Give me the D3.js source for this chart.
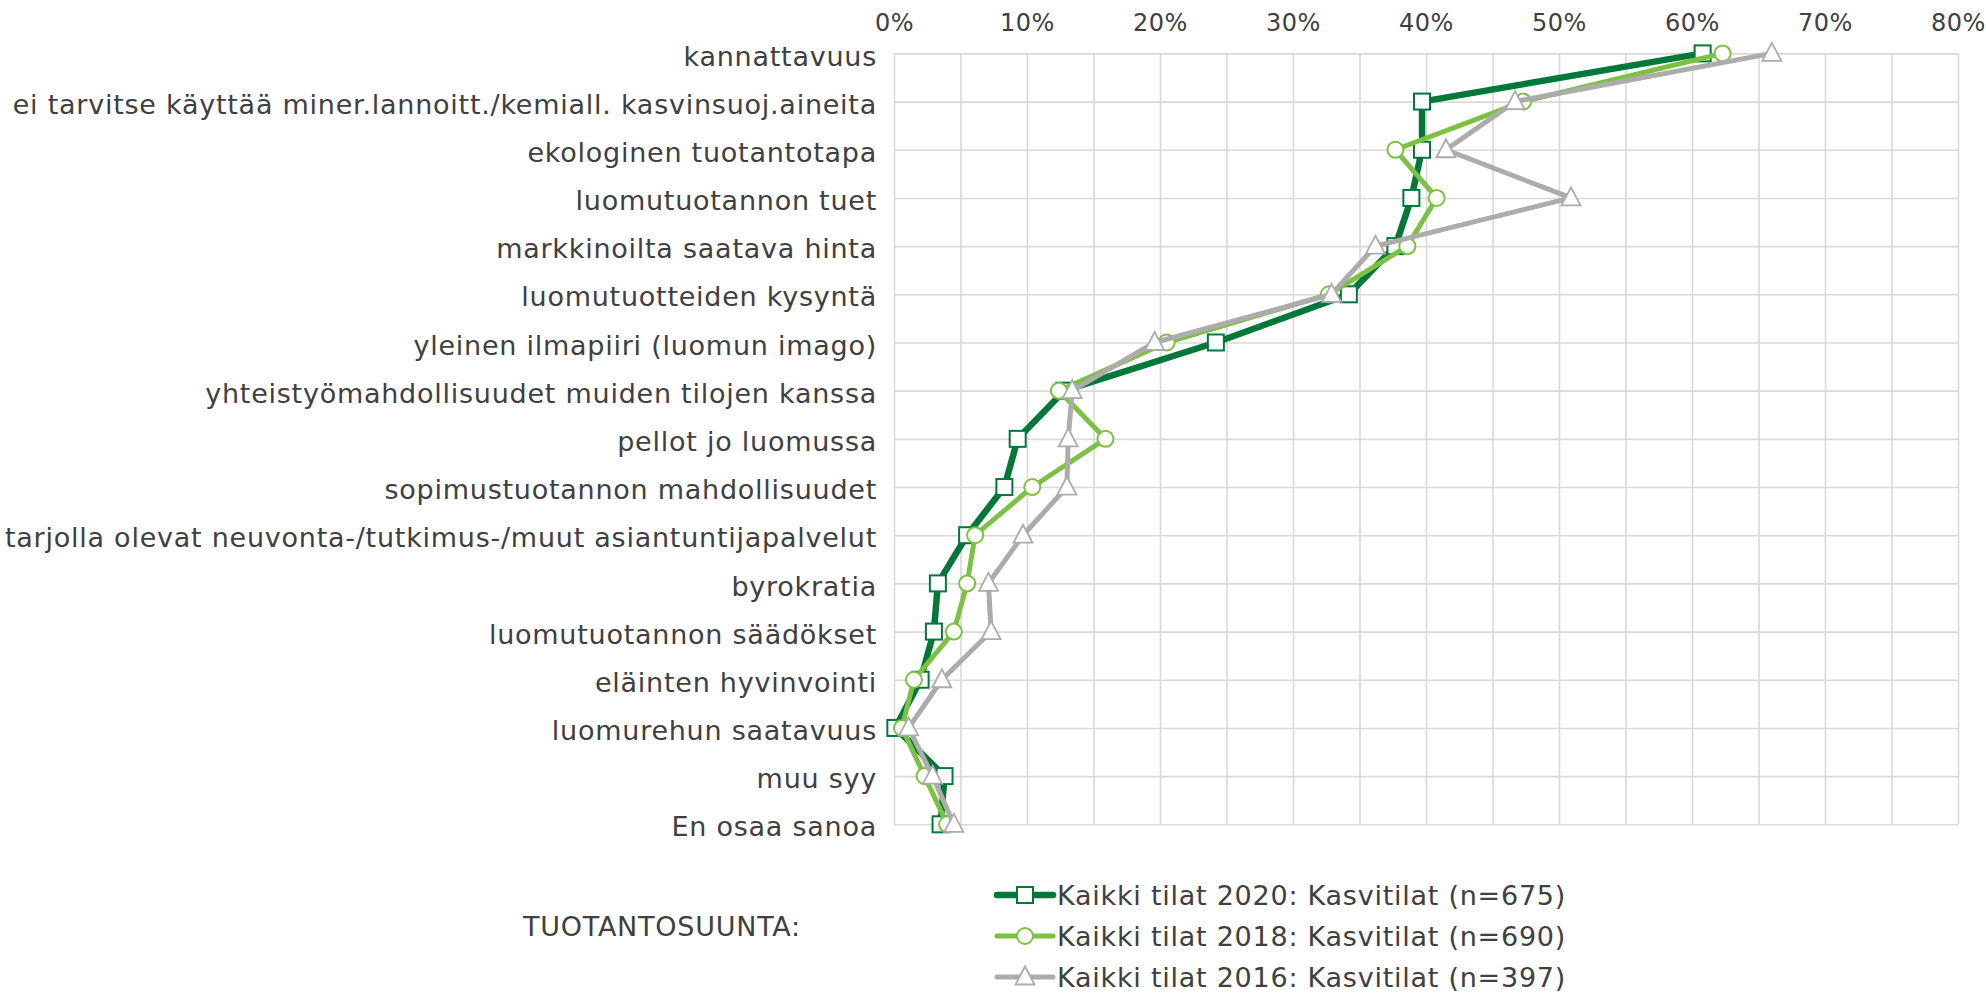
<!DOCTYPE html>
<html>
<head>
<meta charset="utf-8">
<script src="https://cdn.jsdelivr.net/npm/d3@7"></script>
<style>
  body { margin: 0; background: #fff; }
  text { font-family: "DejaVu Sans", Verdana, sans-serif; fill: #404040; }
  .grid line { stroke: #d9d9d9; stroke-width: 1.6px; }
  .axis text { font-size: 27px; letter-spacing: 0.75px; }
  .x-axis text { font-size: 24px; letter-spacing: 0.5px; }
  .legend text { font-size: 27px; letter-spacing: 0.75px; }
</style>
</head>
<body>
<svg id="chart"></svg>
<script>
// reasons, top to bottom
const categories = [
  'kannattavuus',
  'ei tarvitse käyttää miner.lannoitt./kemiall. kasvinsuoj.aineita',
  'ekologinen tuotantotapa',
  'luomutuotannon tuet',
  'markkinoilta saatava hinta',
  'luomutuotteiden kysyntä',
  'yleinen ilmapiiri (luomun imago)',
  'yhteistyömahdollisuudet muiden tilojen kanssa',
  'pellot jo luomussa',
  'sopimustuotannon mahdollisuudet',
  'tarjolla olevat neuvonta-/tutkimus-/muut asiantuntijapalvelut',
  'byrokratia',
  'luomutuotannon säädökset',
  'eläinten hyvinvointi',
  'luomurehun saatavuus',
  'muu syy',
  'En osaa sanoa'
];

// shares in percent
const values2020 = [60.8, 39.7, 39.7, 38.9, 37.7, 34.2, 24.2, 12.8, 9.3, 8.3, 5.5, 3.3, 3.0, 2.0, 0.1, 3.8, 3.5];
const values2018 = [62.3, 47.3, 37.7, 40.8, 38.6, 32.7, 20.5, 12.4, 15.9, 10.4, 6.1, 5.5, 4.5, 1.5, 0.6, 2.3, 4.0];
const values2016 = [66.0, 46.7, 41.5, 50.9, 36.2, 32.9, 19.6, 13.4, 13.1, 13.0, 9.7, 7.1, 7.3, 3.6, 1.1, 2.9, 4.5];

const seriesNames = [
  'Kaikki tilat 2020: Kasvitilat (n=675)',
  'Kaikki tilat 2018: Kasvitilat (n=690)',
  'Kaikki tilat 2016: Kasvitilat (n=397)'
];

const xTicks = [0, 10, 20, 30, 40, 50, 60, 70, 80];
const legendTitle = 'TUOTANTOSUUNTA:';

class ProfileChart {

  constructor(_config, _series) {
    this.config = {
      parentElement: _config.parentElement,
      containerWidth: _config.containerWidth || 1986,
      containerHeight: _config.containerHeight || 994,
      margin: _config.margin || {top: 53.4, right: 28, bottom: 169.7, left: 894}
    }
    this.series = _series;
    this.initVis();
  }

  initVis() {
    let vis = this;

    vis.width = vis.config.containerWidth - vis.config.margin.left - vis.config.margin.right;
    vis.height = vis.config.containerHeight - vis.config.margin.top - vis.config.margin.bottom;

    vis.xScale = d3.scaleLinear()
        .domain([0, 80])
        .range([0, vis.width]);

    vis.yScale = d3.scalePoint()
        .domain(categories)
        .range([0, vis.height])
        .padding(0);

    vis.svg = d3.select(vis.config.parentElement)
        .attr('width', vis.config.containerWidth)
        .attr('height', vis.config.containerHeight);

    vis.chart = vis.svg.append('g')
        .attr('transform', `translate(${vis.config.margin.left},${vis.config.margin.top})`);

    // gridlines: vertical every 5 %, horizontal on every category
    vis.xGrid = d3.axisTop(vis.xScale)
        .tickValues(d3.range(0, 80.1, 5))
        .tickSize(-vis.height)
        .tickFormat('');

    vis.yGrid = d3.axisLeft(vis.yScale)
        .tickSize(-vis.width)
        .tickFormat('');

    vis.xAxis = d3.axisTop(vis.xScale)
        .tickValues(xTicks)
        .tickSize(0)
        .tickPadding(22.5)
        .tickFormat(d => d + '%');

    vis.yAxis = d3.axisLeft(vis.yScale)
        .tickSize(0)
        .tickPadding(17);

    vis.chart.append('g').attr('class', 'grid').call(vis.xGrid)
        .call(g => g.select('.domain').remove());
    vis.chart.append('g').attr('class', 'grid').call(vis.yGrid)
        .call(g => g.select('.domain').remove());

    vis.chart.append('g').attr('class', 'axis x-axis').call(vis.xAxis)
        .call(g => g.select('.domain').remove());

    vis.chart.append('g').attr('class', 'axis y-axis').call(vis.yAxis)
        .call(g => g.select('.domain').remove())
        .call(g => g.selectAll('text').attr('dy', '0.43em'));

    vis.line = d3.line()
        .x(d => vis.xScale(d.value))
        .y(d => vis.yScale(d.category));

    vis.updateVis();
  }

  marker(sel, shape, color) {
    if (shape === 'square') {
      sel.append('rect')
          .attr('x', -8).attr('y', -8)
          .attr('width', 16).attr('height', 16)
          .attr('fill', '#fff').attr('stroke', color).attr('stroke-width', 2);
    } else if (shape === 'circle') {
      sel.append('circle')
          .attr('r', 8)
          .attr('fill', '#fff').attr('stroke', color).attr('stroke-width', 2);
    } else {
      sel.append('path')
          .attr('d', 'M0,-10.5L9.5,7.5L-9.5,7.5Z')
          .attr('fill', '#fff').attr('stroke', color).attr('stroke-width', 1.8);
    }
  }

  updateVis() {
    let vis = this;

    vis.series.forEach(s => {
      const pts = categories.map((c, i) => ({category: c, value: s.values[i]}));

      vis.chart.append('path')
          .datum(pts)
          .attr('fill', 'none')
          .attr('stroke', s.color)
          .attr('stroke-width', s.width)
          .attr('stroke-linejoin', 'round')
          .attr('d', vis.line);

      vis.chart.selectAll(`.m-${s.shape}`)
          .data(pts)
        .join('g')
          .attr('class', `m-${s.shape}`)
          .attr('transform', d => `translate(${vis.xScale(d.value)},${vis.yScale(d.category)})`)
          .each(function() { vis.marker(d3.select(this), s.shape, s.color); });
    });

    // legend
    const legend = vis.svg.append('g').attr('class', 'legend');

    legend.append('text')
        .attr('x', 523)
        .attr('y', 936)
        .text(legendTitle);

    const items = legend.selectAll('.item')
        .data(vis.series)
      .join('g')
        .attr('class', 'item')
        .attr('transform', (d, i) => `translate(997,${895 + i * 41})`);

    items.append('line')
        .attr('x1', 0).attr('x2', 56)
        .attr('stroke', d => d.color)
        .attr('stroke-width', d => d.width)
        .attr('stroke-linecap', 'round');

    items.each(function(d) {
      const g = d3.select(this).append('g').attr('transform', 'translate(28,0)');
      vis.marker(g, d.shape, d.color);
    });

    items.append('text')
        .attr('x', 60)
        .attr('dy', '0.37em')
        .text(d => d.name);
  }
}

new ProfileChart({parentElement: '#chart'}, [
  {name: seriesNames[0], values: values2020, color: '#00783a', width: 6.5, shape: 'square'},
  {name: seriesNames[1], values: values2018, color: '#7cc142', width: 5, shape: 'circle'},
  {name: seriesNames[2], values: values2016, color: '#acacac', width: 5, shape: 'triangle'}
]);
</script>
</body>
</html>
